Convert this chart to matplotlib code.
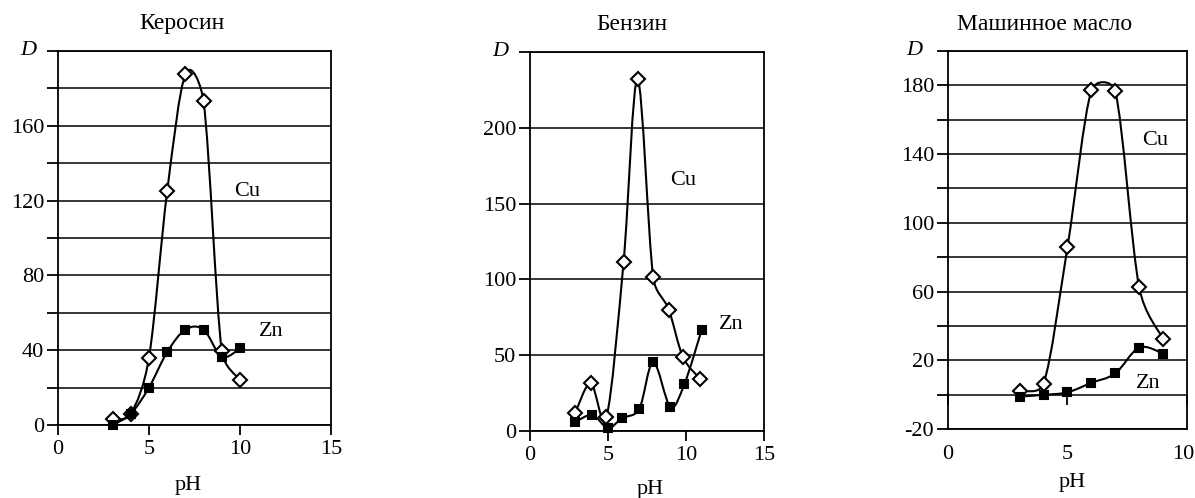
import matplotlib
matplotlib.use("Agg")
import matplotlib.pyplot as plt
import matplotlib.transforms as mtransforms
import numpy as np
from matplotlib.path import Path
from matplotlib.patches import PathPatch

plt.rcParams['font.family'] = ['Liberation Serif', 'DejaVu Serif']
plt.rcParams['font.size'] = 16

# Керосин
ker_cu_x = [3, 4, 5, 6, 7, 8, 9, 10]
ker_cu_y = [3, 6, 36, 125, 187.5, 173, 39.5, 24]
ker_zn_x = [3, 4, 5, 6, 7, 8, 9, 10]
ker_zn_y = [0, 6, 20, 39, 51, 51, 36.5, 41]

# Бензин
ben_cu_x = [2.9, 3.9, 4.9, 6.0, 6.9, 7.9, 8.9, 9.8, 10.9]
ben_cu_y = [12, 31.5, 9, 111.5, 232, 101.5, 80, 49, 34.5]
ben_zn_x = [2.9, 4.0, 5.0, 5.9, 7.0, 7.9, 9.0, 9.9, 11.0]
ben_zn_y = [6, 10.5, 2, 8.5, 14.5, 45.5, 16, 31, 66.5]

# Машинное масло
oil_cu_x = [3, 4, 5, 6, 7, 8, 9]
oil_cu_y = [2.3, 6.5, 86, 177, 176.5, 62.5, 32.5]
oil_zn_x = [3, 4, 5, 6, 7, 8, 9]
oil_zn_y = [-1, 0, 1.5, 7, 12.5, 27.5, 24]

titles = ['Керосин', 'Бензин', 'Машинное масло']


def smooth_path(ax, x, y):
    # Excel-like smoothed line: Bezier arms d/6, capped at half the segment
    x0, x1 = ax.get_xlim()
    y0, y1 = ax.get_ylim()
    bb = ax.get_position()
    sx = bb.width * 1195 / (x1 - x0)
    sy = bb.height * 498 / (y1 - y0)
    p = np.column_stack([np.asarray(x) * sx, np.asarray(y) * sy])
    ext = np.vstack([p[0], p, p[-1]])
    verts = [p[0]]
    codes = [Path.MOVETO]
    for i in range(len(p) - 1):
        a, b, c, d = ext[i], ext[i + 1], ext[i + 2], ext[i + 3]
        seg = np.hypot(*(c - b))
        d02 = np.hypot(*(c - a))
        d13 = np.hypot(*(d - b))
        f1 = min(1 / 6, seg / (2 * d02)) if d02 > 0 else 0
        f2 = min(1 / 6, seg / (2 * d13)) if d13 > 0 else 0
        verts += [b + f1 * (c - a), c - f2 * (d - b), c]
        codes += [Path.CURVE4] * 3
    verts = np.array(verts) / [sx, sy]
    return Path(verts, codes)


def draw_series(ax, x, y, marker, face, ms):
    ax.add_patch(PathPatch(smooth_path(ax, x, y), facecolor='none',
                           edgecolor='black', lw=1.5, zorder=3))
    ax.plot(x, y, ls='none', marker=marker, mfc=face, mec='black',
            mew=1.5, ms=ms, zorder=4, clip_on=False)


def style_axes(ax, ymin, ymax, step, labeled, xmax, dgap):
    ax.set_xlim(0, xmax)
    ax.set_ylim(ymin, ymax)
    yt = np.arange(ymin, ymax + 1, step)
    ax.set_yticks(yt)
    labels = [str(v) if v in labeled else '' for v in yt]
    ax.set_yticklabels(labels)
    ax.set_xticks(np.arange(0, xmax + 1, 5))
    ax.tick_params(axis='y', direction='out', length=8, width=1.3, pad=2)
    ax.tick_params(axis='x', direction='out', length=7, width=1.3, pad=4)
    ax.grid(axis='y', color='black', lw=1.1)
    ax.set_axisbelow(True)
    for s in ax.spines.values():
        s.set_linewidth(1.3)
        s.set_color('black')
    ax.annotate('D', xy=(0, 1), xycoords='axes fraction', xytext=(-dgap, 0),
                textcoords='offset pixels', ha='right', va='center',
                fontstyle='italic')


fig = plt.figure(figsize=(11.95, 4.98), dpi=100)

ax1 = fig.add_axes([0.0485, 0.1466, 0.2285, 0.751])
style_axes(ax1, 0, 200, 20, [0, 40, 80, 120, 160], 15, 22)
draw_series(ax1, ker_cu_x, ker_cu_y, 'D', 'white', 7)
draw_series(ax1, ker_zn_x, ker_zn_y, 's', 'black', 6)
ax1.text(10.4, 125, 'Cu', ha='center', va='center')
ax1.text(11.7, 50, 'Zn', ha='center', va='center')

ax2 = fig.add_axes([0.4435, 0.1345, 0.1958, 0.7611])
style_axes(ax2, 0, 250, 50, [0, 50, 100, 150, 200], 15, 22)
draw_series(ax2, ben_cu_x, ben_cu_y, 'D', 'white', 7)
draw_series(ax2, ben_zn_x, ben_zn_y, 's', 'black', 6)
ax2.text(9.8, 165, 'Cu', ha='center', va='center')
ax2.text(12.9, 70, 'Zn', ha='center', va='center')

ax3 = fig.add_axes([0.7933, 0.138, 0.2, 0.76])
style_axes(ax3, -20, 200, 20, [-20, 20, 60, 100, 140, 180], 10, 26)
ax3.tick_params(axis='x', length=0, pad=11)
last = ax3.get_xticklabels()[-1]
last.set_transform(last.get_transform() +
                   mtransforms.ScaledTranslation(-4 / 100, 0, fig.dpi_scale_trans))
sec = ax3.secondary_xaxis(20 / 220)
sec.set_xticks([0, 5, 10])
sec.set_xticklabels(['', '', ''])
sec.tick_params(direction='out', length=7, width=1.3)
sec.spines['bottom'].set_visible(False)
draw_series(ax3, oil_cu_x, oil_cu_y, 'D', 'white', 7)
draw_series(ax3, oil_zn_x, oil_zn_y, 's', 'black', 6)
ax3.text(8.66, 148, 'Cu', ha='center', va='center')
ax3.text(8.38, 6.7, 'Zn', ha='center', va='center')

W, H = 1195, 498
for (px, py), t in zip([(182, 24), (632, 24), (1045, 24)], titles):
    fig.text(px / W, 1 - py / H, t, ha='center', va='center', fontsize=17)
for px, py in [(188, 485), (650, 489), (1072, 482)]:
    fig.text(px / W, 1 - py / H, 'pH', ha='center', va='center')

fig.savefig('out.png', dpi=100)
